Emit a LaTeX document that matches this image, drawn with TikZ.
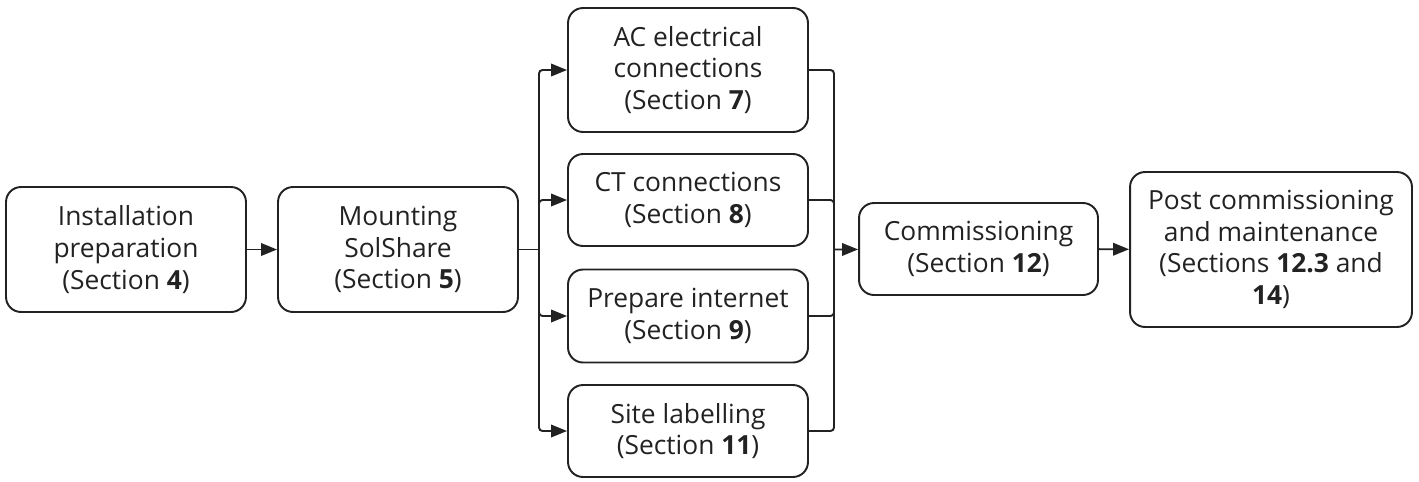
\documentclass[tikz,border=0pt]{standalone}
\usepackage{fontspec}
\setmainfont{Open Sans}
\usetikzlibrary{arrows.meta}
\definecolor{inkgray}{HTML}{222222}
\begin{document}
\begin{tikzpicture}[x=0.02cm,y=-0.02cm,
  font=\fontsize{15}{18}\selectfont, inkgray,
  stepbox/.style={draw=inkgray, line width=1.1pt, rounded corners=0.3cm,
    align=center, inner sep=0pt, text=inkgray},
  flow/.style={draw=inkgray, line width=1.1pt, rounded corners=2pt,
    -{Triangle[length=0.32cm,width=0.25cm]}},
  bus/.style={draw=inkgray, line width=1.1pt, rounded corners=2pt}]
   \useasboundingbox (0,0) rectangle (1419,481);

   % first two steps
   \node[stepbox, minimum width=4.8cm, minimum height=2.5cm] (prep) at (126,249.5)
     {Installation\\preparation\\(Section \textbf{4})};
   \node[stepbox, minimum width=4.8cm, minimum height=2.5cm] (mount) at (398,249.5)
     {Mounting\\SolShare\\(Section \textbf{5})};

   % parallel steps
   \node[stepbox, minimum width=4.8cm, minimum height=2.48cm] (ac) at (688,70)
     {AC electrical\\connections\\(Section \textbf{7})};
   \node[stepbox, minimum width=4.8cm, minimum height=1.84cm] (ct) at (688,200)
     {CT connections\\(Section \textbf{8})};
   \node[stepbox, minimum width=4.8cm, minimum height=1.86cm] (net) at (688,316)
     {Prepare internet\\(Section \textbf{9})};
   \node[stepbox, minimum width=4.8cm, minimum height=1.84cm] (label) at (688,431)
     {Site labelling\\(Section \textbf{11})};

   % last steps
   \node[stepbox, minimum width=4.78cm, minimum height=1.84cm] (comm) at (978.5,249)
     {Commissioning\\(Section \textbf{12})};
   \node[stepbox, minimum width=5.64cm, minimum height=3.1cm] (post) at (1271,249.5)
     {Post commissioning\\and maintenance\\(Sections \textbf{12.3} and\\\textbf{14})};

   \coordinate (split) at (539,249.5);
   \coordinate (join) at (834,249.5);

   \draw[flow] (prep) -- (mount);
   \draw[bus] (mount) -- (split);
   \draw[flow] (split) |- (ac.west);
   \draw[flow] (split) |- (ct.west);
   \draw[flow] (split) |- (net.west);
   \draw[flow] (split) |- (label.west);

   \draw[bus] (ac.east) -| (join);
   \draw[bus] (ct.east) -| (join);
   \draw[bus] (net.east) -| (join);
   \draw[bus] (label.east) -| (join);
   \draw[flow] (join) -- (comm);
   \draw[flow] (comm) -- (post);

\end{tikzpicture}
\end{document}
